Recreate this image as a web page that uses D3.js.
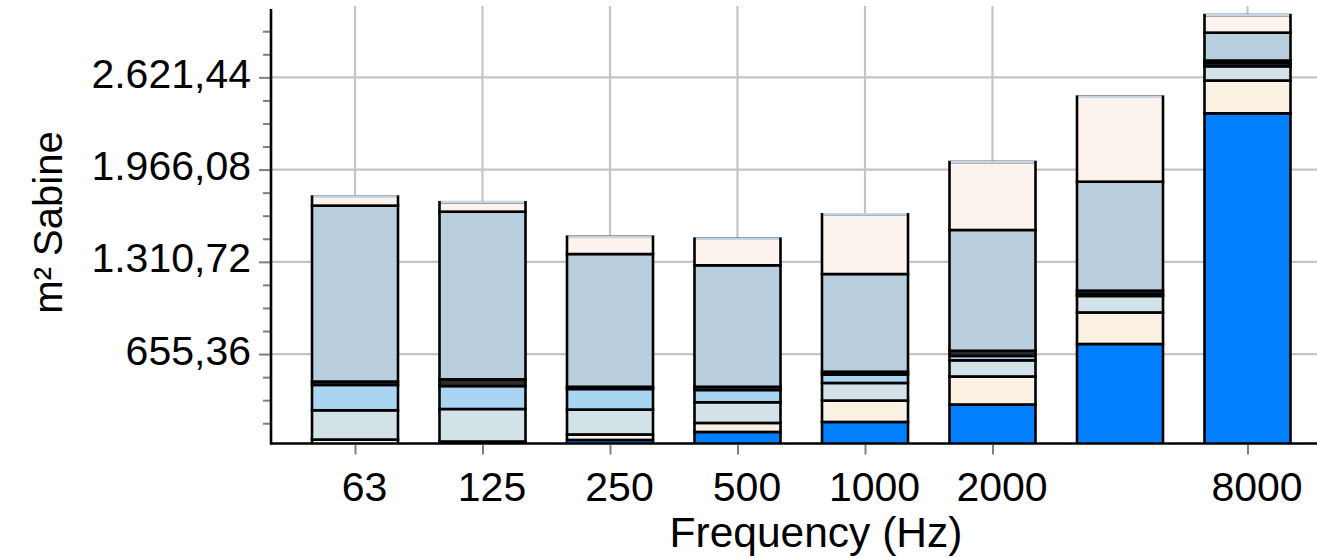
<!DOCTYPE html>
<html>
<head>
<meta charset="utf-8">
<script src="https://cdn.jsdelivr.net/npm/d3@7"></script>
<style>
  html, body { margin: 0; padding: 0; background: #ffffff; }
  svg { display: block; font-family: "Liberation Sans", Arial, Helvetica, sans-serif; }
</style>
</head>
<body>
<svg id="chart" width="1317" height="558"></svg>
<script>
// Octave-band centre frequencies (Hz)
const frequencies = ["63", "125", "250", "500", "1000", "2000", "4000", "8000"];
// Frequencies that carry a tick, gridline and label on the x axis
const xTickValues = ["63", "125", "250", "500", "1000", "2000", "8000"];

// Absorption contributions per band, m² Sabine (stacked bottom to top)
const layerBlue  = [0, 34, 45, 102, 173, 297, 727, 2366];
const layerCream = [48, 0, 39, 64, 152, 199, 224, 233];
const layerMist  = [208, 231, 177, 147, 125, 115, 117, 101];
const layerSky   = [180, 163, 146, 87, 60, 31, 14, 21];
const layerDark  = [24, 48, 16, 23, 20, 37, 24, 20];
const layerSteel = [1250, 1191, 943, 863, 694, 858, 774, 198];
const layerBlush = [64, 67, 123, 189, 424, 483, 604, 125];

// Y axis tick values
const yMajorTicks = [655.36, 1310.72, 1966.08, 2621.44];
const yMinorTicks = [163.84, 327.68, 491.52, 819.2, 983.04, 1146.88, 1474.56, 1638.4, 1802.24,
                     2129.92, 2293.76, 2457.6, 2785.28, 2949.12];

const layers = [
  { key: "blue",  values: layerBlue,  color: "#0080ff" },
  { key: "cream", values: layerCream, color: "#faf1e3" },
  { key: "mist",  values: layerMist,  color: "#d3e2e7" },
  { key: "sky",   values: layerSky,   color: "#a9d5f2" },
  { key: "dark",  values: layerDark,  color: "#2b2b2b" },
  { key: "steel", values: layerSteel, color: "#bacfdd" },
  { key: "blush", values: layerBlush, color: "#fcf2ee" }
];

const table = frequencies.map((f, i) => {
  const row = { freq: f };
  layers.forEach(l => { row[l.key] = l.values[i]; });
  return row;
});

const svg = d3.select("#chart");

const plotLeft = 271, plotRight = 1317, plotTop = 9, plotBottom = 443.5;

const x = d3.scalePoint().domain(frequencies).range([355, 1247.5]);
const y = d3.scaleLinear().domain([0, 3100]).range([446.3, 10]);
const barWidth = 86;

const deFormat = d3.formatLocale({ decimal: ",", thousands: ".", grouping: [3], currency: ["", ""] }).format(",.2f");

// Clip region for the plotting area
svg.append("defs").append("clipPath").attr("id", "plotClip")
  .append("rect").attr("x", plotLeft).attr("y", 0).attr("width", plotRight - plotLeft).attr("height", plotBottom);

// Horizontal gridlines
svg.append("g").selectAll("line").data(yMajorTicks).join("line")
  .attr("x1", plotLeft).attr("x2", plotRight)
  .attr("y1", d => y(d)).attr("y2", d => y(d))
  .attr("stroke", "#c4c4c4").attr("stroke-width", 2.2);

// Vertical gridlines
svg.append("g").selectAll("line").data(xTickValues).join("line")
  .attr("x1", d => x(d)).attr("x2", d => x(d))
  .attr("y1", 6).attr("y2", plotBottom)
  .attr("stroke", "#c4c4c4").attr("stroke-width", 2.2);

// Stacked bars
const stack = d3.stack().keys(layers.map(l => l.key));
const stacked = stack(table);
const colorOf = d3.scaleOrdinal().domain(layers.map(l => l.key)).range(layers.map(l => l.color));

const barsG = svg.append("g").attr("clip-path", "url(#plotClip)");
stacked.forEach(series => {
  barsG.append("g").selectAll("rect")
    .data(series.filter(d => d[1] > d[0]))
    .join("rect")
    .attr("x", d => x(d.data.freq) - barWidth / 2)
    .attr("width", barWidth)
    .attr("y", d => y(d[1]))
    .attr("height", d => y(d[0]) - y(d[1]))
    .attr("fill", colorOf(series.key))
    .attr("stroke", "#000")
    .attr("stroke-width", 2.6);
});

// Light cap along the top of each bar
const topSeries = stacked[stacked.length - 1];
barsG.append("g").selectAll("line").data(topSeries).join("line")
  .attr("x1", d => x(d.data.freq) - barWidth / 2 + 1.3)
  .attr("x2", d => x(d.data.freq) + barWidth / 2 - 1.3)
  .attr("y1", d => y(d[1])).attr("y2", d => y(d[1]))
  .attr("stroke", "#c3d4e2").attr("stroke-width", 2.6);

// Y axis: minor ticks
const yMinorAxis = d3.axisLeft(y).tickValues(yMinorTicks).tickSize(8).tickFormat("");
const gMinor = svg.append("g").attr("transform", `translate(${plotLeft},0)`).call(yMinorAxis);
gMinor.select(".domain").remove();
gMinor.selectAll(".tick line").attr("stroke", "#7f7f7f").attr("stroke-width", 2);

// Y axis: major ticks with labels
const yAxis = d3.axisLeft(y).tickValues(yMajorTicks).tickSize(12).tickPadding(9).tickFormat(deFormat);
const gY = svg.append("g").attr("transform", `translate(${plotLeft},0)`).call(yAxis);
gY.select(".domain").remove();
gY.selectAll(".tick line").attr("stroke", "#7f7f7f").attr("stroke-width", 2);
gY.selectAll(".tick text")
  .attr("font-size", 41).attr("fill", "#000")
  .attr("font-family", "'Liberation Sans', Arial, sans-serif")
  .attr("dy", null).attr("y", 10)
  .attr("x", -20);

// X axis ticks and labels
const xAxis = d3.axisBottom(x).tickValues(xTickValues).tickSize(11).tickPadding(20);
const gX = svg.append("g").attr("transform", `translate(0,${plotBottom})`).call(xAxis);
gX.select(".domain").remove();
gX.selectAll(".tick line").attr("stroke", "#7f7f7f").attr("stroke-width", 2).attr("y1", 1.5);
gX.selectAll(".tick text")
  .attr("font-size", 41).attr("fill", "#000")
  .attr("font-family", "'Liberation Sans', Arial, sans-serif")
  .attr("dy", null).attr("y", 57).attr("dx", 9);

// Axis lines
svg.append("line").attr("x1", plotLeft).attr("x2", plotLeft).attr("y1", plotTop).attr("y2", plotBottom + 1)
  .attr("stroke", "#000").attr("stroke-width", 2.6);
svg.append("line").attr("x1", plotLeft - 1).attr("x2", plotRight).attr("y1", plotBottom).attr("y2", plotBottom)
  .attr("stroke", "#000").attr("stroke-width", 2.6);

// Axis titles
svg.append("text")
  .attr("x", 816).attr("y", 547)
  .attr("text-anchor", "middle")
  .attr("font-size", 42.5)
  .text("Frequency (Hz)");

svg.append("text")
  .attr("transform", "translate(62,222.5) rotate(-90)")
  .attr("text-anchor", "middle")
  .attr("font-size", 40)
  .text("m² Sabine");
</script>
</body>
</html>
